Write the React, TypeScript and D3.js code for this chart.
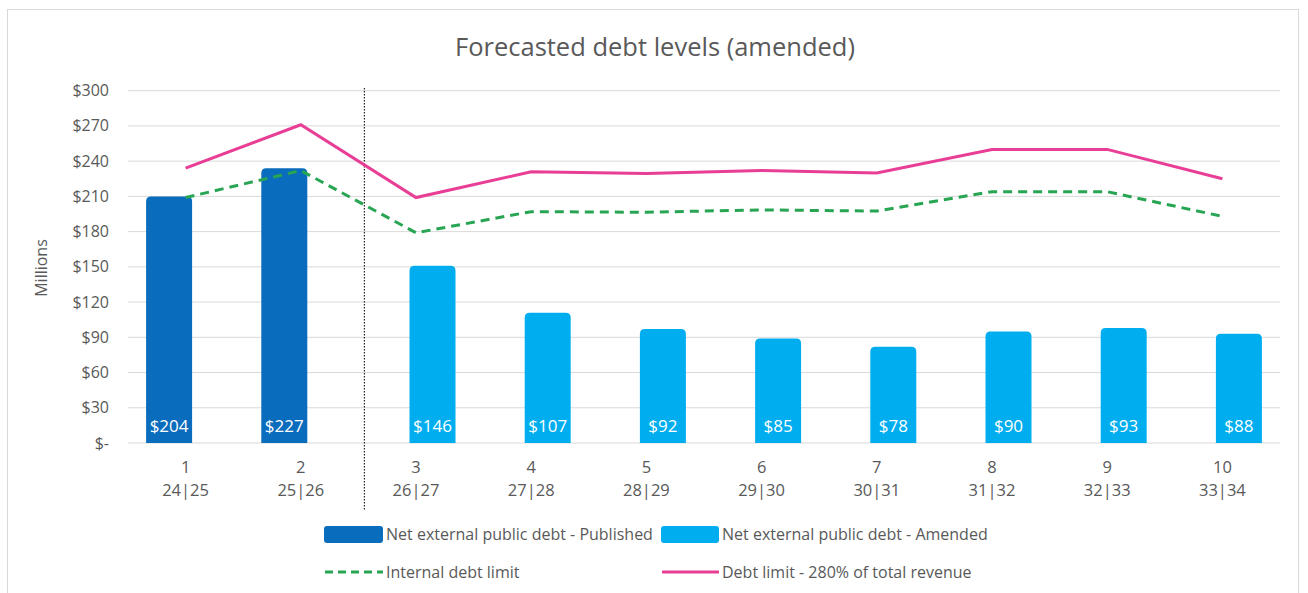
import React from "react";
import * as d3 from "d3";

const categories = ["1", "2", "3", "4", "5", "6", "7", "8", "9", "10"];
const fiscalYears = ["24|25", "25|26", "26|27", "27|28", "28|29", "29|30", "30|31", "31|32", "32|33", "33|34"];
// bar heights as drawn (Published: first two, Amended: rest)
const publishedValues: (number | null)[] = [210, 234, null, null, null, null, null, null, null, null];
const amendedValues: (number | null)[] = [null, null, 151, 111, 97, 89, 82, 95, 98, 93];
const barLabels = ["$204", "$227", "$146", "$107", "$92", "$85", "$78", "$90", "$93", "$88"];
const internalLimit = [209, 232, 179, 197, 196.5, 198.5, 197.5, 214, 214, 193];
const debtLimit = [234, 271, 209, 231, 229.5, 232, 230, 250, 250, 225];
const yTicks = [0, 30, 60, 90, 120, 150, 180, 210, 240, 270, 300];

const W = 1308, H = 593;
const M = { left: 128, right: 1280, top: 90.7, bottom: 443 };
const FONT = "'Open Sans', Lato, sans-serif";
const GREY = "#595959";
const C_PUB = "#0a6cbd";
const C_AMD = "#00aeef";
const C_PINK = "#e83e96";
const C_GREEN = "#27a553";

export default function App() {
  const x = d3.scaleBand<string>().domain(categories).range([M.left, M.right]);
  const y = d3.scaleLinear().domain([0, 300]).range([M.bottom, M.top]);
  const bw = 46;
  const off = 16.5;
  const cx = (i: number) => (x(categories[i]) as number) + x.bandwidth() / 2;
  const line = d3.line<number>().x((_, i) => cx(i)).y((d) => y(d));
  const barPath = (x0: number, y0: number, w: number, h: number, r: number) =>
    `M${x0},${y0 + h}V${y0 + r}Q${x0},${y0} ${x0 + r},${y0}H${x0 + w - r}Q${x0 + w},${y0} ${x0 + w},${y0 + r}V${y0 + h}Z`;
  const sepX = (x(categories[2]) as number) + 6;

  return (
    <svg width={W} height={H} style={{ position: "absolute", left: 0, top: 0, fontFamily: FONT }}>
      <rect x={0} y={0} width={W} height={H} fill="#fff" />
      <rect x={7.5} y={9.5} width={1291} height={600} fill="none" stroke="#d9d9d9" />
      <text x={655} y={56} textAnchor="middle" fontSize={25.5} fill={GREY}>
        Forecasted debt levels (amended)
      </text>
      {yTicks.map((t) => (
        <g key={t}>
          <line x1={M.left} x2={M.right} y1={y(t)} y2={y(t)} stroke="#d9d9d9" strokeWidth={1} />
          <text x={109} y={y(t) + 5.5} textAnchor="end" fontSize={16} fill={GREY}>
            {t === 0 ? "$-" : `$${t}`}
          </text>
        </g>
      ))}
      <text transform={`translate(47,268) rotate(-90)`} textAnchor="middle" fontSize={16} fill={GREY}>
        Millions
      </text>
      {publishedValues.map((v, i) =>
        v == null ? null : (
          <path key={"p" + i} d={barPath(cx(i) - off - bw / 2, y(v), bw, y(0) - y(v), 5)} fill={C_PUB} />
        )
      )}
      {amendedValues.map((v, i) =>
        v == null ? null : (
          <path key={"a" + i} d={barPath(cx(i) + off - bw / 2, y(v), bw, y(0) - y(v), 5)} fill={C_AMD} />
        )
      )}
      {barLabels.map((l, i) => (
        <text
          key={"l" + i}
          x={cx(i) + (publishedValues[i] != null ? -off : off)}
          y={432}
          textAnchor="middle"
          fontSize={17}
          fill="#fff"
        >
          {l}
        </text>
      ))}
      <line x1={sepX} x2={sepX} y1={88} y2={510} stroke="#222" strokeWidth={1.2} strokeDasharray="1.5,1.5" />
      <path d={line(internalLimit) || ""} fill="none" stroke={C_GREEN} strokeWidth={3} strokeDasharray="9,6" />
      <path d={line(debtLimit) || ""} fill="none" stroke={C_PINK} strokeWidth={3} />
      {categories.map((c, i) => (
        <g key={"x" + c}>
          <text x={cx(i)} y={473} textAnchor="middle" fontSize={16.5} fill={GREY}>
            {c}
          </text>
          <text x={cx(i)} y={496} textAnchor="middle" fontSize={16.5} fill={GREY}>
            {fiscalYears[i]}
          </text>
        </g>
      ))}
      <g fontSize={16} fill={GREY}>
        <rect x={324} y={526} width={59} height={17} rx={3} fill={C_PUB} />
        <text x={386} y={540}>Net external public debt - Published</text>
        <rect x={661} y={526} width={58} height={17} rx={3} fill={C_AMD} />
        <text x={722} y={540}>Net external public debt - Amended</text>
        <line x1={325} x2={383} y1={572} y2={572} stroke={C_GREEN} strokeWidth={3} strokeDasharray="8,5" />
        <text x={386} y={578}>Internal debt limit</text>
        <line x1={662} x2={719} y1={572} y2={572} stroke={C_PINK} strokeWidth={3} />
        <text x={722} y={578}>Debt limit - 280% of total revenue</text>
      </g>
    </svg>
  );
}
